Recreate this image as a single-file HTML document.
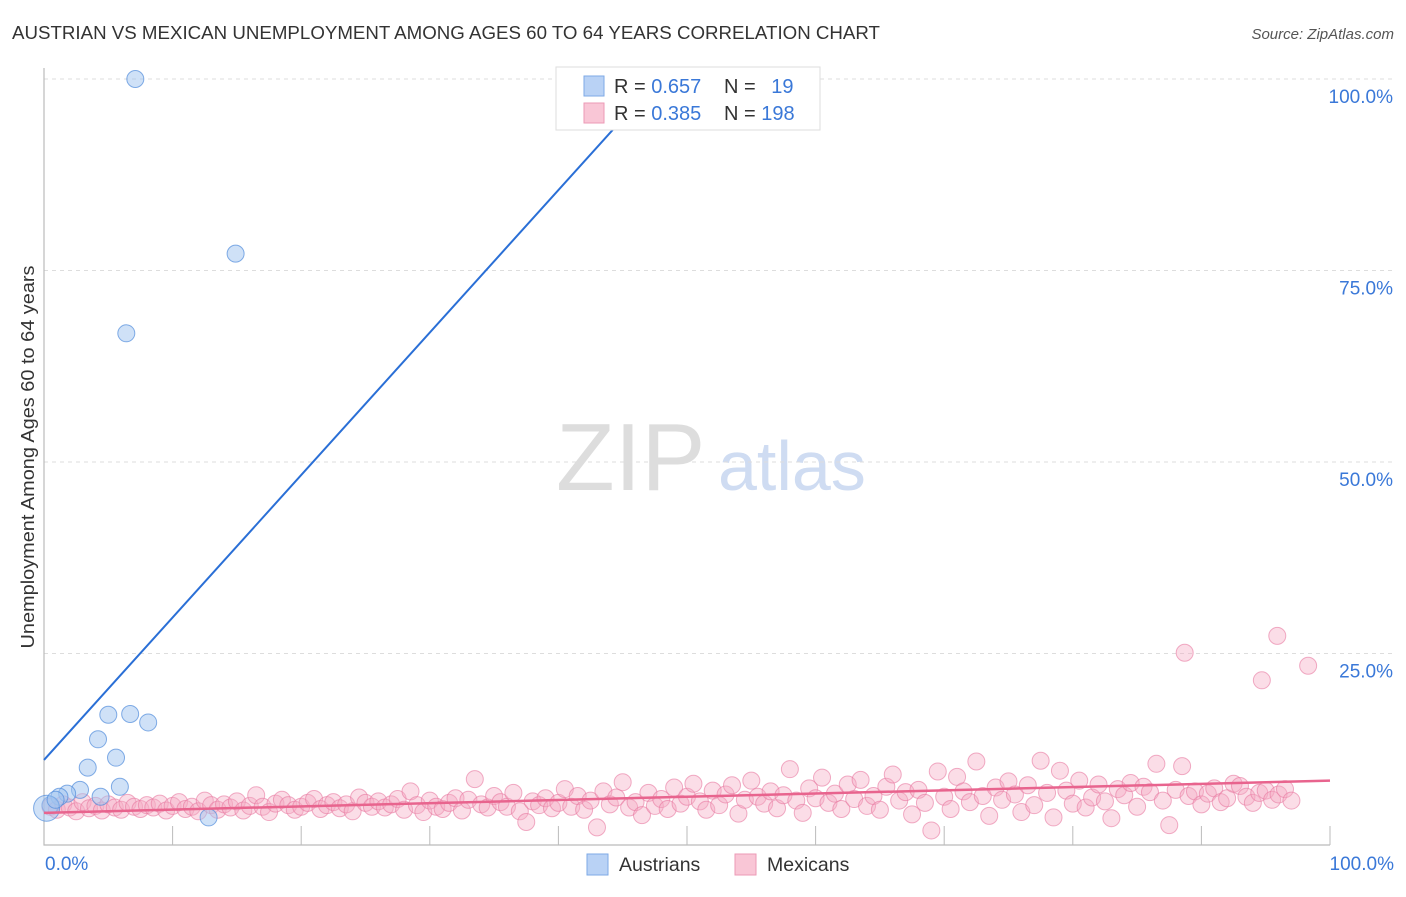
<!DOCTYPE html>
<html><head><meta charset="utf-8"><style>
body{margin:0;background:#fff;font-family:"Liberation Sans",sans-serif}
svg text{font-family:"Liberation Sans",sans-serif}
</style></head><body>
<svg id="c" width="1406" height="892">
<text x="12" y="39" font-size="18" textLength="868" lengthAdjust="spacingAndGlyphs" fill="#333">AUSTRIAN VS MEXICAN UNEMPLOYMENT AMONG AGES 60 TO 64 YEARS CORRELATION CHART</text>
<text x="1394" y="39" font-size="15" fill="#555" font-style="italic" text-anchor="end">Source: ZipAtlas.com</text>
<text x="556" y="490" font-size="96" fill="#ddd" font-family="Liberation Serif,serif">ZIP</text>
<text x="718" y="490" font-size="70" fill="#cfdcf2">atlas</text>
<text transform="translate(34,457) rotate(-90)" font-size="18" textLength="383" lengthAdjust="spacingAndGlyphs" fill="#333" text-anchor="middle">Unemployment Among Ages 60 to 64 years</text>
<g id="grid"></g><g id="axes"></g><g id="pink"></g><g id="blue"></g><g id="lines"></g>
<g>
<rect x="556" y="67" width="264" height="63" fill="#fff" stroke="#ddd"/>
<rect x="584" y="76" width="20" height="20" fill="#b9d2f5" stroke="#7ea9e6"/>
<rect x="584" y="103" width="20" height="20" fill="#f9c6d6" stroke="#ec9ab6"/>
<text x="614" y="93" font-size="20" fill="#333">R = <tspan fill="#3a78d8">0.657</tspan></text>
<text x="724" y="93" font-size="20" fill="#333">N = <tspan fill="#3a78d8" dx="10">19</tspan></text>
<text x="614" y="120" font-size="20" fill="#333">R = <tspan fill="#3a78d8">0.385</tspan></text>
<text x="724" y="120" font-size="20" fill="#333">N = <tspan fill="#3a78d8">198</tspan></text>
</g>
<g>
<rect x="587" y="854" width="21" height="21" fill="#b9d2f5" stroke="#7ea9e6"/>
<text x="619" y="871" font-size="19.5" fill="#333">Austrians</text>
<rect x="735" y="854" width="21" height="21" fill="#f9c6d6" stroke="#ec9ab6"/>
<text x="767" y="871" font-size="19.5" fill="#333">Mexicans</text>
</g>
</svg>
<script>
const yTicks=[25,50,75,100];
const yTickLabels=["25.0%","50.0%","75.0%","100.0%"];
const blueX=[7.1,14.9,6.4,5.0,6.7,8.1,4.2,5.6,3.4,5.9,2.8,1.8,1.2,0.5,0.2,12.8,4.4,0.9,52.4];
const blueY=[100,77.2,66.8,17.0,17.1,16.0,13.8,11.4,10.1,7.6,7.2,6.7,6.3,5.2,4.8,3.6,6.3,5.9,100];
const pinkX=[0.5,1,1.5,2,2.5,3,3.5,4,4.5,5,5.5,6,6.5,7,7.5,8,8.5,9,9.5,10,10.5,11,11.5,12,12.5,13,13.5,14,14.5,15,15.5,16,16.5,17,17.5,18,18.5,19,19.5,20,20.5,21,21.5,22,22.5,23,23.5,24,24.5,25,25.5,26,26.5,27,27.5,28,28.5,29,29.5,30,30.5,31,31.5,32,32.5,33,33.5,34,34.5,35,35.5,36,36.5,37,37.5,38,38.5,39,39.5,40,40.5,41,41.5,42,42.5,43,43.5,44,44.5,45,45.5,46,46.5,47,47.5,48,48.5,49,49.5,50,50.5,51,51.5,52,52.5,53,53.5,54,54.5,55,55.5,56,56.5,57,57.5,58,58.5,59,59.5,60,60.5,61,61.5,62,62.5,63,63.5,64,64.5,65,65.5,66,66.5,67,67.5,68,68.5,69,69.5,70,70.5,71,71.5,72,72.5,73,73.5,74,74.5,75,75.5,76,76.5,77,77.5,78,78.5,79,79.5,80,80.5,81,81.5,82,82.5,83,83.5,84,84.5,85,85.5,86,86.5,87,87.5,88,88.5,89,89.5,90,90.5,91,91.5,92,92.5,93,93.5,94,94.5,95,95.5,96,96.5,97];
const pinkY=[5.0,4.6,5.3,4.9,4.4,5.6,4.8,5.1,4.5,5.3,4.9,4.6,5.5,5.0,4.7,5.2,4.9,5.4,4.5,5.1,5.6,4.7,5.0,4.4,5.8,5.2,4.6,5.3,4.9,5.7,4.5,5.1,6.5,5.0,4.3,5.4,5.9,5.2,4.6,5.0,5.5,6.0,4.7,5.2,5.6,4.8,5.3,4.4,6.2,5.5,5.0,5.7,4.9,5.3,6.0,4.6,7.0,5.2,4.3,5.8,5.0,4.7,5.5,6.1,4.5,5.9,8.6,5.3,4.9,6.4,5.6,5.0,6.8,4.4,3.0,5.7,5.2,6.1,4.8,5.5,7.3,5.0,6.4,4.6,5.8,2.3,7.0,5.3,6.2,8.2,4.9,5.6,3.9,6.8,5.1,6.0,4.7,7.5,5.4,6.3,8.0,5.7,4.6,7.1,5.2,6.6,7.8,4.1,5.9,8.4,6.3,5.4,7.0,4.8,6.5,9.9,5.8,4.2,7.4,6.1,8.8,5.5,6.7,4.7,7.9,6.0,8.5,5.1,6.4,4.6,7.6,9.2,5.8,6.9,4.0,7.2,5.5,1.9,9.6,6.3,4.7,8.9,7.0,5.6,10.9,6.4,3.8,7.5,5.9,8.3,6.6,4.3,7.8,5.2,11.0,6.8,3.6,9.7,7.1,5.4,8.4,4.9,6.2,7.9,5.7,3.5,7.3,6.5,8.1,5.0,7.6,6.9,10.6,5.8,2.6,7.2,10.3,6.4,7.0,5.3,6.7,7.4,5.6,6.1,8.0,7.7,6.3,5.5,6.8,7.1,5.9,6.6,7.3,5.8,6.2];
const outlierX=[88.7,95.9,98.3,94.7];
const outlierY=[25.1,27.3,23.4,21.5];
const X0=44,X1=1330,Y0=845,Y1=79;
const sx=v=>X0+(X1-X0)*v/100, sy=v=>Y0-(Y0-Y1)*v/100;
const NS="http://www.w3.org/2000/svg";
function mk(parent,tag,attrs){const e=document.createElementNS(NS,tag);for(const k in attrs)e.setAttribute(k,attrs[k]);document.getElementById(parent).appendChild(e);return e;}
yTicks.forEach((t,i)=>{
 const g=mk('grid','line',{x1:X0,x2:1394,y1:sy(t),y2:sy(t),stroke:'#ddd','stroke-dasharray':'4,4'});
 
 
 const l=mk('grid','text',{x:1393,y:sy(t)+24,'font-size':19,fill:'#3a78d8','text-anchor':'end'});
 l.textContent=yTickLabels[i];
 
 
});
const ax=mk('axes','path',{d:`M${X0} 68V${Y0}H${X1}`,stroke:'#bbb',fill:'none','stroke-width':1.2});


for(let i=1;i<=10;i++){const t=mk('axes','line',{x1:sx(i*10),x2:sx(i*10),y1:Y0,y2:Y0-19,stroke:'#bbb'});
 
 }
const xl0=mk('axes','text',{x:45,y:870,'font-size':19,fill:'#3a78d8'});xl0.textContent='0.0%';


const xl1=mk('axes','text',{x:1394,y:870,'font-size':19,fill:'#3a78d8','text-anchor':'end'});xl1.textContent='100.0%';


const n=Math.min(pinkX.length,pinkY.length);
for(let i=0;i<n;i++){const c=mk('pink','circle',{cx:sx(pinkX[i]),cy:sy(pinkY[i]),r:8.5,fill:'rgba(245,170,195,0.4)',stroke:'rgba(232,120,160,0.6)'});
 
 }
outlierX.forEach((x,i)=>{const c=mk('pink','circle',{cx:sx(x),cy:sy(outlierY[i]),r:8.5,fill:'rgba(245,170,195,0.4)',stroke:'rgba(232,120,160,0.6)'});
 
 });
blueX.forEach((x,i)=>{const c=mk('blue','circle',{cx:sx(x),cy:sy(blueY[i]),r:(i==14?13:8.5),fill:'rgba(160,195,240,0.5)',stroke:'rgba(80,140,220,0.7)'});
 
 });
const bI=11.1,bS=1.86, pI=4.2,pS=0.042;
const bxEnd=(100-bI)/bS;
const bl=mk('lines','line',{x1:sx(0),y1:sy(bI),x2:sx(bxEnd),y2:sy(100),stroke:'#2a6fd6','stroke-width':2});


const pl=mk('lines','line',{x1:sx(0),y1:sy(pI),x2:sx(100),y2:sy(pI+pS*100),stroke:'#e8648e','stroke-width':2.5});


</script>
</body></html>
